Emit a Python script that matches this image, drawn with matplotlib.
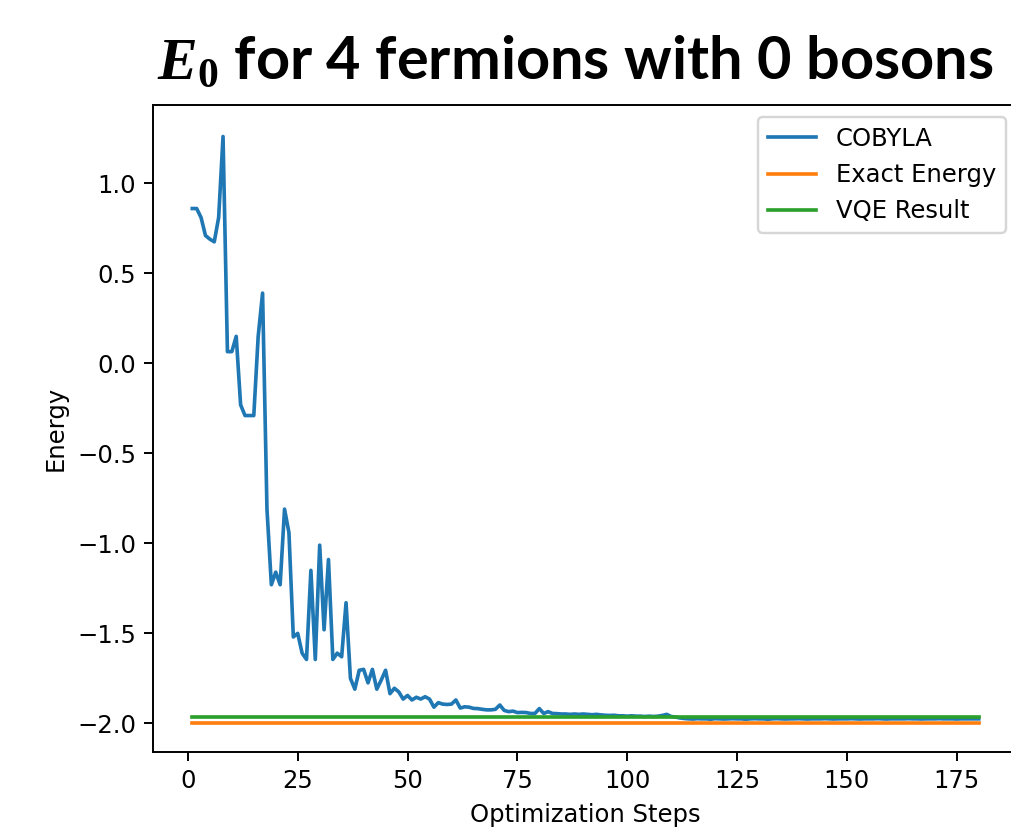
import matplotlib
matplotlib.use("Agg")
import matplotlib.pyplot as plt

# --- data ---
steps = list(range(1, 181))
cobyla = [
    0.86, 0.86, 0.81, 0.71, 0.69, 0.675, 0.81, 1.26, 0.065, 0.065,
    0.15, -0.23, -0.29, -0.29, -0.29, 0.15, 0.39, -0.81, -1.23, -1.16,
    -1.23, -0.81, -0.94, -1.52, -1.50, -1.61, -1.645, -1.15, -1.645, -1.01,
    -1.48, -1.09, -1.645, -1.61, -1.63, -1.33, -1.75, -1.81, -1.705, -1.70,
    -1.775, -1.70, -1.81, -1.76, -1.705, -1.835, -1.805, -1.825, -1.865, -1.845,
    -1.87, -1.855, -1.865, -1.852, -1.865, -1.91, -1.885, -1.893, -1.895, -1.893,
    -1.87, -1.915, -1.908, -1.91, -1.917, -1.918, -1.922, -1.925, -1.925, -1.922,
    -1.898, -1.928, -1.935, -1.932, -1.94, -1.939, -1.94, -1.945, -1.945, -1.918,
    -1.945, -1.935, -1.945, -1.946, -1.948, -1.948, -1.95, -1.948, -1.95, -1.948,
    -1.95, -1.952, -1.95, -1.953, -1.955, -1.956, -1.955, -1.958, -1.958, -1.96,
    -1.958, -1.96, -1.96, -1.962, -1.96, -1.962, -1.96, -1.956, -1.95, -1.962,
    -1.965, -1.97, -1.973, -1.975, -1.976, -1.974, -1.975, -1.975, -1.977, -1.974,
    -1.975, -1.976, -1.975, -1.974, -1.975, -1.975, -1.977, -1.975, -1.974, -1.975,
    -1.975, -1.977, -1.975, -1.974, -1.975, -1.976, -1.975, -1.975, -1.974, -1.975,
    -1.976, -1.975, -1.975, -1.975, -1.974, -1.975, -1.976, -1.975, -1.975, -1.975,
    -1.974, -1.975, -1.976, -1.975, -1.975, -1.975, -1.974, -1.975, -1.976, -1.975,
    -1.975, -1.975, -1.975, -1.974, -1.975, -1.975, -1.976, -1.975, -1.975, -1.975,
    -1.974, -1.975, -1.975, -1.975, -1.976, -1.975, -1.975, -1.975, -1.975, -1.975,
]
exact_energy = -2.0
vqe_result = -1.967

title = r"$E_0$ for 4 fermions with 0 bosons"

plt.rcParams["mathtext.fontset"] = "custom"
plt.rcParams["mathtext.it"] = "Liberation Serif:italic:bold"
plt.rcParams["mathtext.rm"] = "Liberation Serif:bold"

fig = plt.figure(figsize=(1011 / 175, 829 / 175), dpi=175)
fig.patch.set_facecolor("white")

# axes run past the right edge, like the cropped screenshot
ax = fig.add_axes([0.1513, 0.0929, 0.8556, 0.7804])

ax.plot(steps, cobyla, label="COBYLA")
ax.plot(steps, [exact_energy] * len(steps), label="Exact Energy")
ax.plot(steps, [vqe_result] * len(steps), label="VQE Result")

ax.set_ylim(-2.159, 1.435)
ax.set_xlabel("Optimization Steps")
ax.set_ylabel("Energy")
ax.legend(loc="upper right")

# push the right spine off the canvas, as in the screenshot
ax.spines["right"].set_visible(False)

fig.text(0.155, 0.905, title, fontsize=24.5, fontweight="bold",
         family="Lato", ha="left", va="baseline")

fig.savefig("out.png", dpi=175)
